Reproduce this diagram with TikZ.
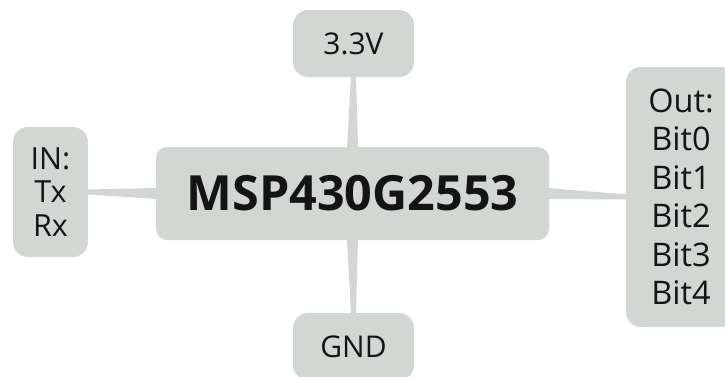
\documentclass[tikz,border=0pt]{standalone}
\usepackage{fontspec}
\setmainfont{Open Sans}
\usetikzlibrary{positioning, calc}
\definecolor{boxgrey}{HTML}{D3D7D4}
\definecolor{inkblack}{HTML}{141414}
\tikzset{
  every picture/.style={font=\fontsize{30}{36}\selectfont},
  box/.style={fill=boxgrey, rounded corners=15pt, align=center, text=inkblack, inner sep=0pt},
  chip/.style={box, rounded corners=11pt, font=\fontsize{48.5}{52}\selectfont\bfseries},
  link/.style={fill=boxgrey},
}
\begin{document}
\begin{tikzpicture}[x=1pt, y=-1pt]
  \useasboundingbox (0,0) rectangle (725,376);
  % boxes
  \node[chip, minimum width=393pt, minimum height=93pt] (mcu) at (352.5,193.5) {MSP430G2553};
  \node[box, minimum width=121pt, minimum height=67pt] (vcc) at (353.5,43.5) {3.3V};
  \node[box, minimum width=121pt, minimum height=67pt] (gnd) at (353.5,346.5) {GND};
  \node[box, minimum width=75pt, minimum height=130pt, font=\fontsize{30.5}{33.5}\selectfont] (in) at (50.5,192) {IN:\\Tx\\Rx};
  \node[box, minimum width=110pt, minimum height=260pt, font=\fontsize{32.5}{38.5}\selectfont] (out) at (681,197) {Out:\\Bit0\\Bit1\\Bit2\\Bit3\\Bit4};
  % tapered links
  \fill[link] ($(mcu.north)+(-5.5,1)$) -- ($(vcc.south)+(-2.5,-1)$) -- ($(vcc.south)+(2.5,-1)$) -- ($(mcu.north)+(5.5,1)$) -- cycle;
  \fill[link] ($(mcu.south)+(-5.5,-1)$) -- ($(gnd.north)+(-2.5,1)$) -- ($(gnd.north)+(2.5,1)$) -- ($(mcu.south)+(5.5,-1)$) -- cycle;
  \fill[link] ($(mcu.west)+(1,-5.5)$) -- ($(in.east)+(-1,-2.5)$) -- ($(in.east)+(-1,2.5)$) -- ($(mcu.west)+(1,5.5)$) -- cycle;
  \fill[link] ($(mcu.east)+(-1,-5.5)$) -- ($(out.west)+(1,-2.5)$) -- ($(out.west)+(1,2.5)$) -- ($(mcu.east)+(-1,5.5)$) -- cycle;
\end{tikzpicture}
\end{document}
